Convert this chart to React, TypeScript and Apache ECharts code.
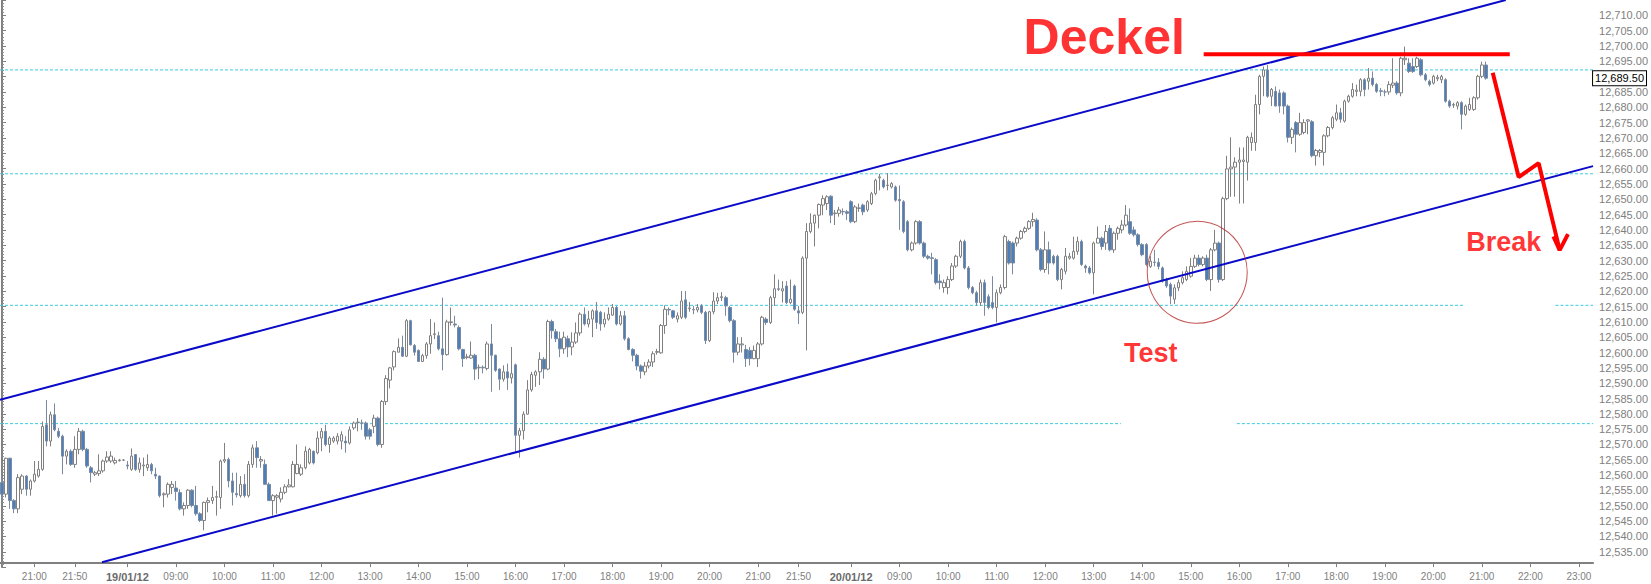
import React, { useEffect, useRef } from 'react';
import * as echarts from 'echarts';

// Sessions of 5-minute slots shown on the category axis
const sessions = [
  { date: '18/01/12', start: '20:20', end: '22:50' },
  { date: '19/01/12', start: '08:00', end: '22:50' },
  { date: '20/01/12', start: '08:00', end: '23:15' },
];

// Labelled ticks on the time axis
const xTickKeys = [
  '18/01/12 21:00', '18/01/12 21:50',
  '19/01/12 08:00', '19/01/12 09:00', '19/01/12 10:00', '19/01/12 11:00', '19/01/12 12:00',
  '19/01/12 13:00', '19/01/12 14:00', '19/01/12 15:00', '19/01/12 16:00', '19/01/12 17:00',
  '19/01/12 18:00', '19/01/12 19:00', '19/01/12 20:00', '19/01/12 21:00', '19/01/12 21:50',
  '20/01/12 08:00', '20/01/12 09:00', '20/01/12 10:00', '20/01/12 11:00', '20/01/12 12:00',
  '20/01/12 13:00', '20/01/12 14:00', '20/01/12 15:00', '20/01/12 16:00', '20/01/12 17:00',
  '20/01/12 18:00', '20/01/12 19:00', '20/01/12 20:00', '20/01/12 21:00', '20/01/12 22:00',
  '20/01/12 23:00',
];

// Candles [open, close, low, high]
const day0Candles = [
  [12557.6, 12553.8, 12551.7, 12560.3], [12553.8, 12565.5, 12552.7, 12565.7], [12565.5, 12551.7, 12549.0, 12565.7],
  [12551.7, 12549.0, 12547.6, 12552.2], [12549.0, 12559.2, 12547.6, 12560.3], [12555.4, 12559.7, 12553.8, 12560.3],
  [12559.7, 12555.4, 12553.3, 12560.0], [12555.4, 12558.1, 12553.3, 12558.6], [12558.1, 12560.3, 12557.6, 12564.6],
  [12559.7, 12561.9, 12559.2, 12564.6], [12561.9, 12575.9, 12561.4, 12577.5], [12576.4, 12571.1, 12569.4, 12584.5],
  [12571.1, 12579.7, 12569.4, 12580.7], [12579.7, 12574.8, 12574.3, 12583.4], [12574.3, 12572.7, 12572.1, 12575.4],
  [12572.7, 12566.2, 12560.3, 12573.2], [12566.2, 12567.8, 12563.5, 12568.4], [12567.8, 12563.5, 12563.0, 12568.4],
  [12563.5, 12568.4, 12562.4, 12572.7], [12568.4, 12574.3, 12566.8, 12575.4], [12574.3, 12568.4, 12567.8, 12574.8],
  [12568.4, 12563.0, 12562.4, 12568.9], [12562.4, 12560.8, 12557.6, 12563.0], [12560.3, 12560.8, 12559.7, 12561.4],
  [12560.5, 12561.4, 12559.7, 12566.8], [12561.4, 12564.6, 12560.8, 12565.1], [12564.6, 12565.9, 12564.0, 12567.8],
  [12564.6, 12566.2, 12564.0, 12567.8], [12564.0, 12564.8, 12563.5, 12565.7], [12564.7, 12564.9, 12564.4, 12565.3],
  [12564.9, 12564.9, 12564.6, 12565.2],
];

const day1Candles = [
  [12563.3, 12563.0, 12561.9, 12564.6], [12561.9, 12566.2, 12561.4, 12568.7], [12566.7, 12561.9, 12561.4, 12566.9],
  [12561.9, 12564.0, 12560.8, 12565.7], [12563.0, 12563.3, 12559.7, 12565.7], [12562.4, 12563.5, 12561.4, 12566.8],
  [12563.5, 12561.4, 12560.3, 12564.0], [12560.3, 12559.7, 12558.7, 12562.4], [12559.7, 12553.3, 12552.7, 12559.9],
  [12553.6, 12553.9, 12549.5, 12554.4], [12553.8, 12557.0, 12552.7, 12557.6], [12556.0, 12557.0, 12553.8, 12558.1],
  [12555.8, 12554.7, 12551.7, 12558.1], [12554.3, 12549.0, 12548.5, 12555.4], [12549.0, 12550.1, 12546.8, 12551.1],
  [12550.1, 12555.1, 12549.0, 12555.4], [12555.1, 12550.1, 12549.5, 12555.4], [12550.1, 12547.4, 12546.8, 12556.5],
  [12547.4, 12545.2, 12544.7, 12547.9], [12545.2, 12551.1, 12542.0, 12551.4], [12551.1, 12551.7, 12547.9, 12552.7],
  [12551.7, 12552.7, 12550.6, 12556.5], [12552.8, 12553.0, 12546.8, 12554.9], [12552.7, 12564.6, 12549.0, 12565.1],
  [12564.6, 12565.1, 12564.0, 12570.5], [12565.1, 12558.1, 12556.0, 12565.7], [12558.1, 12554.4, 12550.1, 12560.8],
  [12554.0, 12553.6, 12552.7, 12560.8], [12553.3, 12557.0, 12552.7, 12559.7], [12557.0, 12553.3, 12552.7, 12560.3],
  [12553.3, 12563.5, 12552.7, 12564.6], [12563.5, 12568.9, 12562.4, 12570.0], [12568.9, 12565.7, 12562.4, 12571.1],
  [12564.6, 12565.1, 12562.4, 12566.2], [12563.5, 12557.0, 12557.0, 12565.1], [12557.0, 12551.7, 12551.7, 12557.6],
  [12551.7, 12553.3, 12546.8, 12553.8], [12552.8, 12553.3, 12547.4, 12553.8], [12552.2, 12554.4, 12551.1, 12556.0],
  [12554.4, 12556.2, 12553.8, 12557.0], [12556.2, 12556.8, 12556.0, 12558.7], [12556.2, 12563.5, 12556.0, 12564.6],
  [12560.5, 12563.5, 12560.3, 12570.0], [12560.3, 12562.4, 12559.7, 12563.5], [12562.4, 12567.8, 12561.9, 12569.4],
  [12564.0, 12568.4, 12563.5, 12568.9], [12567.8, 12564.0, 12563.5, 12568.0], [12567.3, 12572.1, 12566.8, 12574.3],
  [12572.1, 12574.3, 12567.8, 12575.4], [12574.3, 12570.0, 12569.4, 12576.4], [12570.0, 12572.1, 12567.3, 12572.7],
  [12571.1, 12572.1, 12570.5, 12572.7], [12571.1, 12572.7, 12570.0, 12573.7], [12571.1, 12573.2, 12568.4, 12574.3],
  [12571.1, 12570.5, 12567.3, 12572.7], [12570.5, 12574.8, 12570.0, 12575.9], [12575.4, 12577.0, 12574.8, 12577.5],
  [12577.1, 12577.3, 12574.3, 12578.6], [12577.0, 12577.0, 12574.8, 12578.1], [12577.0, 12572.7, 12571.6, 12577.5],
  [12574.8, 12572.7, 12571.6, 12575.4], [12575.9, 12578.6, 12573.7, 12579.7], [12578.6, 12570.0, 12569.4, 12579.1],
  [12570.0, 12584.0, 12568.9, 12584.5], [12584.0, 12591.5, 12582.9, 12592.6], [12591.0, 12595.0, 12588.3, 12595.3],
  [12595.3, 12600.3, 12594.2, 12600.7], [12600.1, 12601.7, 12600.1, 12604.6], [12601.7, 12598.8, 12598.5, 12605.5],
  [12598.8, 12610.4, 12598.5, 12610.9], [12610.4, 12602.5, 12602.3, 12610.7], [12602.3, 12600.1, 12599.0, 12602.8],
  [12600.7, 12597.1, 12596.9, 12601.0], [12597.1, 12599.0, 12596.9, 12599.6], [12599.0, 12602.8, 12598.0, 12603.4],
  [12602.8, 12605.5, 12599.6, 12610.9], [12605.9, 12606.1, 12604.4, 12609.8], [12605.5, 12601.2, 12600.7, 12606.8],
  [12601.2, 12599.3, 12594.2, 12617.9], [12599.3, 12610.0, 12599.0, 12610.7], [12609.8, 12610.0, 12608.8, 12614.7],
  [12609.3, 12609.0, 12608.2, 12612.0], [12608.2, 12601.2, 12600.7, 12608.8], [12601.0, 12598.0, 12595.3, 12601.2],
  [12598.4, 12598.6, 12597.8, 12599.6], [12598.2, 12599.1, 12598.0, 12603.6], [12599.1, 12594.6, 12591.0, 12599.6],
  [12595.0, 12595.2, 12591.3, 12596.1], [12595.2, 12595.0, 12593.2, 12595.8], [12594.8, 12602.8, 12594.2, 12603.6],
  [12602.8, 12599.1, 12587.2, 12609.3], [12599.1, 12594.2, 12593.7, 12599.3], [12594.6, 12591.3, 12587.8, 12594.8],
  [12591.3, 12593.7, 12590.5, 12595.8], [12593.7, 12591.7, 12587.8, 12596.4], [12591.7, 12593.1, 12589.9, 12601.8],
  [12596.0, 12573.0, 12567.3, 12596.4], [12573.0, 12574.5, 12565.7, 12575.4], [12574.5, 12579.9, 12571.6, 12580.8],
  [12579.9, 12587.8, 12579.7, 12591.0], [12587.8, 12592.8, 12587.2, 12593.7], [12592.6, 12593.7, 12588.8, 12594.2],
  [12593.7, 12597.8, 12589.4, 12600.1], [12597.8, 12594.6, 12591.5, 12598.5], [12594.6, 12610.1, 12594.2, 12610.7],
  [12610.1, 12607.1, 12604.5, 12610.7], [12606.8, 12604.5, 12603.4, 12607.7], [12604.5, 12601.2, 12598.5, 12606.8],
  [12601.2, 12605.0, 12599.6, 12606.8], [12604.5, 12601.8, 12598.5, 12605.5], [12601.8, 12603.4, 12599.1, 12606.6],
  [12603.4, 12606.4, 12602.8, 12609.8], [12606.4, 12612.5, 12605.5, 12613.1], [12612.5, 12609.3, 12608.8, 12614.7],
  [12609.3, 12610.9, 12608.2, 12613.6], [12610.9, 12613.6, 12605.0, 12614.1], [12613.6, 12609.8, 12607.7, 12616.5],
  [12613.1, 12609.3, 12607.1, 12613.6], [12609.3, 12610.9, 12608.2, 12613.1], [12610.9, 12612.5, 12610.4, 12614.7],
  [12612.2, 12614.7, 12612.0, 12615.8], [12614.7, 12609.3, 12608.8, 12615.2], [12609.3, 12612.0, 12608.8, 12613.6],
  [12612.0, 12604.5, 12603.9, 12613.6], [12604.5, 12601.0, 12600.7, 12605.0], [12601.0, 12599.1, 12597.1, 12601.4],
  [12599.1, 12595.6, 12594.2, 12599.6], [12595.6, 12593.9, 12591.5, 12596.1], [12593.7, 12595.6, 12592.6, 12596.9],
  [12595.6, 12596.9, 12594.8, 12597.8], [12596.9, 12599.6, 12595.3, 12600.4], [12600.1, 12600.3, 12599.3, 12601.2],
  [12599.9, 12608.8, 12599.6, 12609.3], [12608.8, 12614.1, 12606.1, 12615.4], [12614.1, 12613.9, 12612.2, 12614.7],
  [12613.6, 12611.5, 12610.9, 12613.9], [12610.9, 12612.0, 12609.8, 12613.1], [12611.5, 12616.8, 12610.9, 12620.1],
  [12617.2, 12611.5, 12610.9, 12620.1], [12614.3, 12614.5, 12613.3, 12616.5], [12614.0, 12613.9, 12612.5, 12615.2],
  [12613.9, 12614.7, 12613.1, 12615.8], [12615.2, 12613.1, 12612.5, 12615.8], [12613.1, 12603.9, 12602.8, 12613.6],
  [12603.9, 12613.3, 12603.4, 12613.6], [12613.3, 12616.8, 12612.5, 12619.7], [12616.8, 12617.9, 12615.8, 12619.5],
  [12617.9, 12618.2, 12616.8, 12619.7], [12617.9, 12615.2, 12612.0, 12618.5], [12614.7, 12610.4, 12609.8, 12615.2],
  [12610.4, 12600.1, 12596.7, 12610.9], [12600.1, 12602.8, 12599.1, 12605.0], [12602.5, 12602.8, 12600.0, 12605.0],
  [12601.0, 12598.0, 12595.3, 12602.5], [12600.7, 12598.0, 12595.8, 12601.8], [12598.0, 12600.7, 12597.8, 12602.3],
  [12598.0, 12602.8, 12595.3, 12603.4], [12602.8, 12611.5, 12602.3, 12612.0], [12610.9, 12609.8, 12609.0, 12611.5],
  [12609.8, 12617.9, 12609.3, 12618.5], [12617.9, 12620.8, 12615.2, 12625.5], [12620.8, 12620.6, 12620.1, 12623.8],
  [12620.1, 12620.8, 12616.3, 12623.3], [12621.7, 12616.3, 12615.8, 12623.3], [12616.3, 12617.4, 12615.8, 12623.8],
  [12621.7, 12614.1, 12613.6, 12622.2], [12613.6, 12612.9, 12609.3, 12615.2], [12613.1, 12630.8, 12612.5, 12631.4],
  [12630.8, 12639.5, 12600.7, 12642.2], [12639.5, 12642.2, 12638.9, 12645.4], [12642.2, 12644.8, 12634.6, 12645.0],
  [12644.8, 12648.3, 12640.5, 12648.6], [12648.1, 12650.2, 12644.8, 12651.3], [12648.6, 12650.8, 12646.5, 12651.3],
  [12651.0, 12644.8, 12642.2, 12651.3], [12645.3, 12645.5, 12641.6, 12646.5], [12645.4, 12646.5, 12644.3, 12647.5],
  [12646.0, 12645.9, 12644.8, 12647.0], [12645.9, 12645.4, 12643.2, 12646.5],
];

const day2Candles = [
  [12649.2, 12642.7, 12642.2, 12649.7], [12642.7, 12647.5, 12642.2, 12648.1], [12647.0, 12647.2, 12645.9, 12648.6],
  [12648.1, 12645.9, 12644.8, 12648.6], [12646.5, 12649.2, 12645.9, 12649.7], [12648.6, 12651.8, 12648.1, 12652.4],
  [12651.9, 12656.2, 12651.3, 12656.7], [12657.0, 12657.3, 12652.9, 12658.3], [12656.2, 12654.0, 12653.5, 12656.7],
  [12654.5, 12654.6, 12652.9, 12658.5], [12654.0, 12655.1, 12653.5, 12655.6], [12654.0, 12649.7, 12649.2, 12654.5],
  [12649.9, 12649.5, 12640.0, 12654.5], [12649.2, 12639.5, 12638.9, 12649.7], [12642.7, 12633.5, 12633.0, 12643.2],
  [12633.5, 12635.7, 12633.0, 12636.2], [12635.7, 12642.7, 12635.2, 12643.2], [12642.7, 12635.7, 12635.2, 12643.2],
  [12635.7, 12631.4, 12630.8, 12636.2], [12631.4, 12630.8, 12630.3, 12631.9], [12630.9, 12630.7, 12625.5, 12632.5],
  [12630.3, 12622.8, 12622.2, 12630.8], [12623.3, 12622.8, 12620.6, 12625.5], [12621.2, 12622.8, 12619.5, 12623.8],
  [12621.2, 12623.8, 12619.0, 12624.9], [12623.8, 12628.2, 12623.3, 12629.2], [12628.2, 12631.4, 12627.6, 12631.9],
  [12631.4, 12636.2, 12630.8, 12636.8], [12636.2, 12627.6, 12627.1, 12636.8], [12627.6, 12621.2, 12620.6, 12628.2],
  [12621.2, 12619.5, 12619.0, 12621.7], [12619.5, 12616.3, 12615.2, 12620.1], [12616.3, 12622.8, 12615.2, 12623.8],
  [12622.8, 12616.3, 12612.0, 12623.8], [12618.2, 12614.7, 12614.1, 12619.0], [12616.3, 12614.7, 12614.1, 12624.9],
  [12614.7, 12619.5, 12609.8, 12620.6], [12619.5, 12621.2, 12619.0, 12622.2], [12621.2, 12637.8, 12620.6, 12638.4],
  [12636.2, 12629.2, 12628.7, 12636.8], [12635.7, 12629.2, 12625.5, 12636.2], [12635.7, 12637.3, 12634.6, 12637.8],
  [12637.3, 12639.5, 12636.8, 12640.0], [12639.5, 12640.5, 12638.9, 12641.1], [12640.5, 12642.7, 12640.0, 12643.2],
  [12642.7, 12643.4, 12641.1, 12645.6], [12643.2, 12633.5, 12633.0, 12643.8], [12633.5, 12627.1, 12626.5, 12634.1],
  [12627.1, 12633.5, 12626.0, 12639.5], [12633.5, 12629.2, 12625.5, 12636.2], [12631.4, 12629.2, 12628.7, 12631.9],
  [12631.4, 12623.8, 12623.3, 12631.9], [12623.8, 12627.1, 12620.6, 12627.6], [12626.5, 12631.4, 12625.5, 12634.1],
  [12630.8, 12631.4, 12630.3, 12632.5], [12630.8, 12633.0, 12630.3, 12637.8], [12633.0, 12636.2, 12631.9, 12637.8],
  [12636.2, 12628.7, 12628.2, 12636.8], [12628.2, 12627.6, 12626.0, 12628.7], [12627.6, 12626.0, 12625.5, 12628.2],
  [12626.0, 12635.7, 12619.0, 12636.2], [12635.7, 12637.3, 12635.7, 12641.1], [12637.3, 12634.6, 12633.5, 12637.8],
  [12635.7, 12639.5, 12633.5, 12641.6], [12640.5, 12633.5, 12633.0, 12641.6], [12633.5, 12638.9, 12632.5, 12639.5],
  [12638.9, 12640.5, 12636.8, 12641.1], [12640.0, 12641.6, 12638.9, 12643.2], [12641.6, 12644.8, 12641.1, 12648.1],
  [12642.7, 12638.9, 12638.4, 12647.0], [12640.0, 12638.4, 12637.8, 12641.1], [12638.4, 12635.2, 12634.6, 12638.9],
  [12635.2, 12631.9, 12631.4, 12635.7], [12635.2, 12628.7, 12628.1, 12635.7], [12628.1, 12629.8, 12627.6, 12631.4],
  [12629.5, 12629.4, 12628.1, 12633.5], [12629.4, 12628.1, 12627.1, 12630.8], [12627.6, 12623.3, 12622.8, 12628.1],
  [12623.8, 12621.7, 12621.1, 12624.4], [12622.2, 12618.4, 12615.8, 12622.8], [12617.4, 12621.1, 12615.8, 12622.2],
  [12621.1, 12622.8, 12620.1, 12623.8], [12622.8, 12624.4, 12622.2, 12626.5], [12623.8, 12626.5, 12623.3, 12628.1],
  [12624.9, 12628.1, 12624.4, 12630.8], [12628.1, 12630.8, 12627.6, 12631.9], [12630.8, 12628.7, 12628.1, 12631.9],
  [12628.7, 12630.8, 12628.1, 12631.4], [12630.8, 12623.8, 12623.3, 12631.9], [12623.8, 12633.5, 12620.1, 12634.1],
  [12633.5, 12635.7, 12633.0, 12640.0], [12635.7, 12623.8, 12622.8, 12636.2], [12623.8, 12650.2, 12623.3, 12650.8],
  [12650.2, 12659.9, 12649.7, 12664.2], [12659.9, 12660.5, 12650.8, 12670.2], [12660.5, 12662.1, 12650.8, 12663.7],
  [12662.1, 12662.8, 12648.6, 12666.9], [12662.3, 12662.8, 12648.6, 12666.9], [12662.1, 12670.2, 12656.1, 12670.7],
  [12668.5, 12670.2, 12665.8, 12671.8], [12668.5, 12680.9, 12665.8, 12684.1], [12680.9, 12690.1, 12677.7, 12690.6],
  [12690.1, 12692.2, 12683.6, 12693.3], [12692.2, 12683.6, 12683.1, 12693.8], [12683.6, 12685.8, 12680.4, 12686.3],
  [12685.2, 12680.4, 12680.4, 12686.8], [12684.7, 12680.4, 12678.2, 12685.8], [12684.7, 12680.4, 12677.7, 12685.2],
  [12680.4, 12670.2, 12668.5, 12680.9], [12670.2, 12672.8, 12668.0, 12673.4], [12675.0, 12671.2, 12665.3, 12675.5],
  [12671.2, 12675.0, 12670.7, 12678.2], [12671.8, 12675.0, 12671.2, 12676.1], [12675.5, 12675.9, 12671.2, 12676.1],
  [12675.3, 12664.2, 12663.7, 12675.8], [12664.2, 12665.9, 12661.0, 12666.4], [12665.3, 12665.9, 12663.7, 12666.4],
  [12665.3, 12670.7, 12661.0, 12671.2], [12670.7, 12673.4, 12670.2, 12673.9], [12673.4, 12676.6, 12672.8, 12677.2],
  [12676.1, 12678.2, 12675.5, 12680.9], [12678.2, 12676.1, 12675.0, 12679.8], [12675.5, 12682.0, 12675.0, 12682.5],
  [12682.0, 12683.6, 12681.5, 12684.1], [12683.6, 12685.8, 12683.1, 12687.9], [12685.2, 12685.6, 12683.6, 12687.4],
  [12685.2, 12689.0, 12683.6, 12689.5], [12689.0, 12685.8, 12683.6, 12689.5], [12688.5, 12689.5, 12685.8, 12692.8],
  [12689.5, 12687.4, 12686.8, 12691.7], [12687.4, 12685.2, 12684.7, 12687.9], [12685.4, 12685.2, 12683.6, 12686.3],
  [12685.0, 12685.0, 12683.6, 12685.8], [12685.0, 12687.4, 12684.1, 12688.5], [12687.2, 12687.9, 12686.3, 12696.0],
  [12687.9, 12684.7, 12684.1, 12688.5], [12684.7, 12696.0, 12683.6, 12696.5], [12695.5, 12696.0, 12693.8, 12699.8],
  [12694.4, 12691.7, 12691.2, 12696.0], [12693.3, 12691.7, 12691.2, 12696.0], [12693.3, 12696.0, 12692.8, 12696.5],
  [12695.5, 12690.6, 12690.1, 12696.0], [12690.6, 12689.0, 12688.5, 12691.2], [12688.5, 12687.4, 12686.8, 12689.0],
  [12687.9, 12690.1, 12687.4, 12690.6], [12689.3, 12689.8, 12688.5, 12690.6], [12689.0, 12690.1, 12687.9, 12690.6],
  [12689.0, 12682.0, 12681.5, 12689.5], [12682.0, 12680.4, 12679.8, 12682.5], [12680.7, 12680.9, 12679.8, 12681.5],
  [12680.4, 12681.5, 12679.3, 12682.0], [12681.5, 12677.7, 12672.8, 12682.0], [12677.7, 12680.4, 12677.2, 12680.9],
  [12679.3, 12680.9, 12678.8, 12683.1], [12679.3, 12683.1, 12678.8, 12683.6], [12683.1, 12690.1, 12682.5, 12690.6],
  [12690.1, 12693.8, 12689.5, 12694.9], [12693.8, 12689.5, 12689.0, 12694.9],
];

const lastPrice = 12689.5;

// Horizontal dashed levels: [value, fromSlot, toSlot]
const levelSegments = [
  [12692.2, -0.5, 393.5],
  [12658.3, -0.5, 393.5],
  [12615.4, -0.5, 361.4],
  [12615.4, 384.2, 393.5],
  [12576.8, -0.5, 276.7],
  [12576.8, 305.4, 393.5],
];

// Trend channel lines: [[slot, value], [slot, value]]
const channelUpper = [[-0.5, 12584.55], [371.9, 12715]];
const channelLower = [[24.73, 12531.6], [393.5, 12660.8]];

// Annotations
const deckelLine = [[297.2, 12697.3], [372.9, 12697.3]];
const breakPath = [[368.69, 12691.26], [375.1, 12657.24], [380.05, 12661.76], [385.24, 12633.4]];
const breakHead = [[383.7, 12637.9], [385.24, 12633.4], [387.3, 12638.6]];
const testCircle = [295.6, 12626.15];
const annotationTexts = [
  { text: 'Deckel', pos: [272.6, 12702.9], size: 50 },
  { text: 'Test', pos: [284.1, 12599.8], size: 27 },
  { text: 'Break', pos: [371.4, 12636.0], size: 27 },
];

function slotTimes(start: string, end: string) {
  const toMin = (s: string) => parseInt(s.slice(0, 2), 10) * 60 + parseInt(s.slice(3), 10);
  const out: string[] = [];
  for (let m = toMin(start); m <= toMin(end); m += 5) {
    out.push(String(Math.floor(m / 60)).padStart(2, '0') + ':' + String(m % 60).padStart(2, '0'));
  }
  return out;
}

const slots: string[] = [];
sessions.forEach((s) => slotTimes(s.start, s.end).forEach((t) => slots.push(s.date + ' ' + t)));

const candles = [...day0Candles, ...day1Candles, ...day2Candles];

const FONT = 'Arial, "Liberation Sans", sans-serif';

function fmtPrice(v: number) {
  const s = v.toFixed(2);
  const [i, d] = s.split('.');
  return i.replace(/\B(?=(\d{3})+(?!\d))/g, ',') + '.' + d;
}

export default function App() {
  const ref = useRef<HTMLDivElement>(null);
  useEffect(() => {
    if (!ref.current) return;
    const chart = echarts.init(ref.current, undefined, { renderer: 'svg' });
    const tickSet = new Set(xTickKeys);
    const tickFn = (_i: number, v: string) => tickSet.has(v);
    const lineSeries = (data: number[][], color: string, width: number, type: any, z: number) => ({
      type: 'line',
      xAxisIndex: 1,
      yAxisIndex: 0,
      data,
      symbol: 'none',
      silent: true,
      z,
      lineStyle: { color, width, type },
    });
    const series: any[] = [];
    levelSegments.forEach((seg) => {
      series.push(lineSeries([[seg[1], seg[0]], [seg[2], seg[0]]], '#3ccbe0', 1, [3, 2], 1));
    });
    series.push({
      type: 'candlestick',
      xAxisIndex: 0,
      yAxisIndex: 0,
      data: candles,
      barWidth: 3,
      z: 2,
      itemStyle: {
        color: '#ffffff',
        color0: '#4a7fbb',
        borderColor: '#808080',
        borderColor0: '#7a8aa0',
        borderWidth: 1,
      },
      markLine: {
        silent: true,
        symbol: 'none',
        lineStyle: { color: 'rgba(0,0,0,0)', width: 0 },
        data: [{ yAxis: lastPrice }],
        label: {
          show: true,
          position: 'end',
          distance: 0,
          formatter: () => fmtPrice(lastPrice),
          color: '#000',
          fontSize: 11,
          fontFamily: FONT,
          backgroundColor: '#fff',
          borderColor: '#000',
          borderWidth: 1,
          padding: [2, 2, 1, 2],
        },
      },
    });
    series.push(lineSeries(channelUpper, '#0a0ac8', 2, 'solid', 3));
    series.push(lineSeries(channelLower, '#0a0ac8', 2, 'solid', 3));
    series.push(lineSeries(deckelLine, '#ff0000', 4, 'solid', 4));
    series.push(lineSeries(breakPath, '#ff0000', 4, 'solid', 4));
    series.push(lineSeries(breakHead, '#ff0000', 4, 'solid', 4));
    series.push({
      type: 'scatter',
      xAxisIndex: 1,
      yAxisIndex: 0,
      silent: true,
      z: 4,
      data: [testCircle],
      symbol: 'circle',
      symbolSize: [100, 102],
      itemStyle: { color: 'rgba(0,0,0,0)', borderColor: '#b52a2a', borderWidth: 1 },
    });
    annotationTexts.forEach((a) => {
      series.push({
        type: 'scatter',
        xAxisIndex: 1,
        yAxisIndex: 0,
        silent: true,
        z: 5,
        data: [a.pos],
        symbolSize: 1,
        itemStyle: { color: 'rgba(0,0,0,0)' },
        label: {
          show: true,
          position: 'inside',
          formatter: a.text,
          color: '#ff0000',
          fontSize: a.size,
          fontWeight: 'bold',
          fontFamily: FONT,
        },
      });
    });

    chart.setOption({
      animation: false,
      backgroundColor: '#ffffff',
      textStyle: { fontFamily: FONT },
      grid: { left: -1.65, right: 55.8, top: -5.475, bottom: 16.9 },
      xAxis: [
        {
          type: 'category',
          data: slots,
          boundaryGap: true,
          offset: -4,
          axisLine: { show: true, lineStyle: { color: '#808080', width: 2 } },
          axisTick: { show: true, interval: tickFn, alignWithLabel: true, length: 4, lineStyle: { color: '#808080' } },
          axisLabel: {
            interval: tickFn,
            color: '#808080',
            fontSize: 10,
            margin: 8,
            fontFamily: FONT,
            formatter: (v: string) => {
              const [date, time] = v.split(' ');
              return time === '08:00' ? '{d|' + date + '}' : time;
            },
            rich: { d: { fontWeight: 'bold', fontSize: 11, color: '#6a6a6a', fontFamily: FONT } },
          },
          splitLine: { show: false },
        },
        { type: 'value', min: -0.5, max: 393.5, show: false },
      ],
      yAxis: [
        {
          type: 'value',
          position: 'right',
          min: 12530,
          max: 12715,
          interval: 5,
          axisLine: { show: true, lineStyle: { color: '#808080', width: 2 } },
          axisTick: { show: true, length: 4, lineStyle: { color: '#808080' } },
          minorTick: { show: true, splitNumber: 5, length: 2, lineStyle: { color: '#909090' } },
          axisLabel: {
            color: '#808080',
            fontSize: 11,
            margin: 6,
            fontFamily: FONT,
            showMinLabel: false,
            showMaxLabel: false,
            // the boxed last price covers the 12,690.00 label in the reference
            formatter: (v: number) => (Math.abs(v - 12690) < 0.01 ? '' : fmtPrice(v)),
          },
          splitLine: { show: false },
          minorSplitLine: { show: false },
        },
      ],
      series,
    });
    return () => chart.dispose();
  }, []);
  return (
    <div
      ref={ref}
      style={{ position: 'absolute', left: 0, top: 0, width: 1651, height: 584, background: '#fff' }}
    />
  );
}
